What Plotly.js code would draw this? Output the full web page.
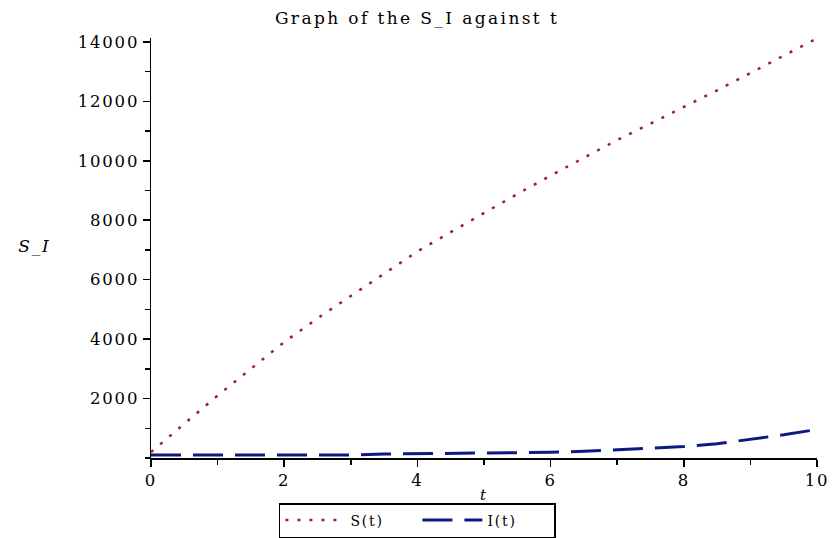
<!DOCTYPE html>
<html>
<head>
<meta charset="utf-8">
<script src="https://cdn.plot.ly/plotly-3.0.1.min.js"></script>
<style>
html,body{margin:0;padding:0;background:#fff;}
#chart{width:834px;height:538px;}
#chart text{letter-spacing:1.8px;}
#chart text.gtitle{letter-spacing:2.4px;}
</style>
</head>
<body>
<div id="chart"></div>
<script>
// time points
const tValues = [0,0.5,1,1.5,2,2.5,3,3.5,4,4.5,5,5.5,6,6.5,7,7.5,8,8.5,9,9.5,10];
// S(t)
const sValues = [200,1150,2100,3000,3900,4700,5450,6200,6950,7600,8250,8880,9500,10100,10700,11250,11800,12370,12950,13530,14120];
// I(t)
const iValues = [100,100,100,100,100,100,102,135,145,148,152,165,190,225,270,320,385,480,620,780,960];
const yTickVals = [2000,4000,6000,8000,10000,12000,14000];
const xTickVals = [0,2,4,6,8,10];

const serif = "DejaVu Serif, Liberation Serif, serif";
const fsize = 16.5;

const traces = [
  {x: tValues, y: sValues, name: "S(t)", type: "scatter", mode: "lines",
   line: {color: "#9a1f36", width: 2.5, dash: "3px,9px"}},
  {x: tValues, y: iValues, name: "I(t)", type: "scatter", mode: "lines",
   line: {color: "#0d1b80", width: 3, dash: "30px,12px"}}
];

const layout = {
  width: 834, height: 538,
  margin: {l: 151, r: 17, t: 38, b: 80, autoexpand: false},
  paper_bgcolor: "#fff", plot_bgcolor: "#fff",
  font: {family: serif, size: fsize, color: "#000"},
  title: {text: "Graph of the S_I against t", x: 0.5, xref: "container", xanchor: "center",
          y: 0.966, yanchor: "middle",
          font: {family: serif, size: 17, color: "#000"}},
  xaxis: {range: [0, 10], tickvals: xTickVals, ticktext: xTickVals.map(String),
          showgrid: false, zeroline: false, showline: true, linecolor: "#000", linewidth: 1.5,
          ticks: "outside", ticklen: 7, tickwidth: 1.5, tickcolor: "#000",
          minor: {dtick: 1, tick0: 0, ticks: "outside", ticklen: 5, tickwidth: 1.5, tickcolor: "#000", showgrid: false},
          tickfont: {family: serif, size: fsize, color: "#000"},
          title: {text: "<i>t</i>", standoff: 0, font: {family: serif, size: 15, color: "#000"}}},
  yaxis: {range: [0, 14130], tickvals: yTickVals, ticktext: yTickVals.map(String),
          showgrid: false, zeroline: false, showline: true, linecolor: "#000", linewidth: 1.5,
          ticks: "outside", ticklen: 7, tickwidth: 1.5, tickcolor: "#000",
          minor: {dtick: 1000, tick0: 0, ticks: "outside", ticklen: 5, tickwidth: 1.5, tickcolor: "#000", showgrid: false},
          tickfont: {family: serif, size: fsize, color: "#000"}},
  annotations: [
    {text: "<i>S_I</i>", xref: "paper", yref: "paper", x: -0.175, y: 0.505,
     xanchor: "center", yanchor: "middle", showarrow: false,
     font: {family: serif, size: 17, color: "#000"}}
  ],
  showlegend: true,
  legend: {orientation: "h", x: 0.4, xanchor: "center", y: -0.1905, yanchor: "bottom",
           bordercolor: "#000", borderwidth: 1.5, bgcolor: "rgba(255,255,255,0)",
           font: {family: serif, size: 14, color: "#000"},
           entrywidth: 62, entrywidthmode: "pixels", itemwidth: 60}
};

Plotly.newPlot("chart", traces, layout, {displayModeBar: false, staticPlot: true});
</script>
</body>
</html>
